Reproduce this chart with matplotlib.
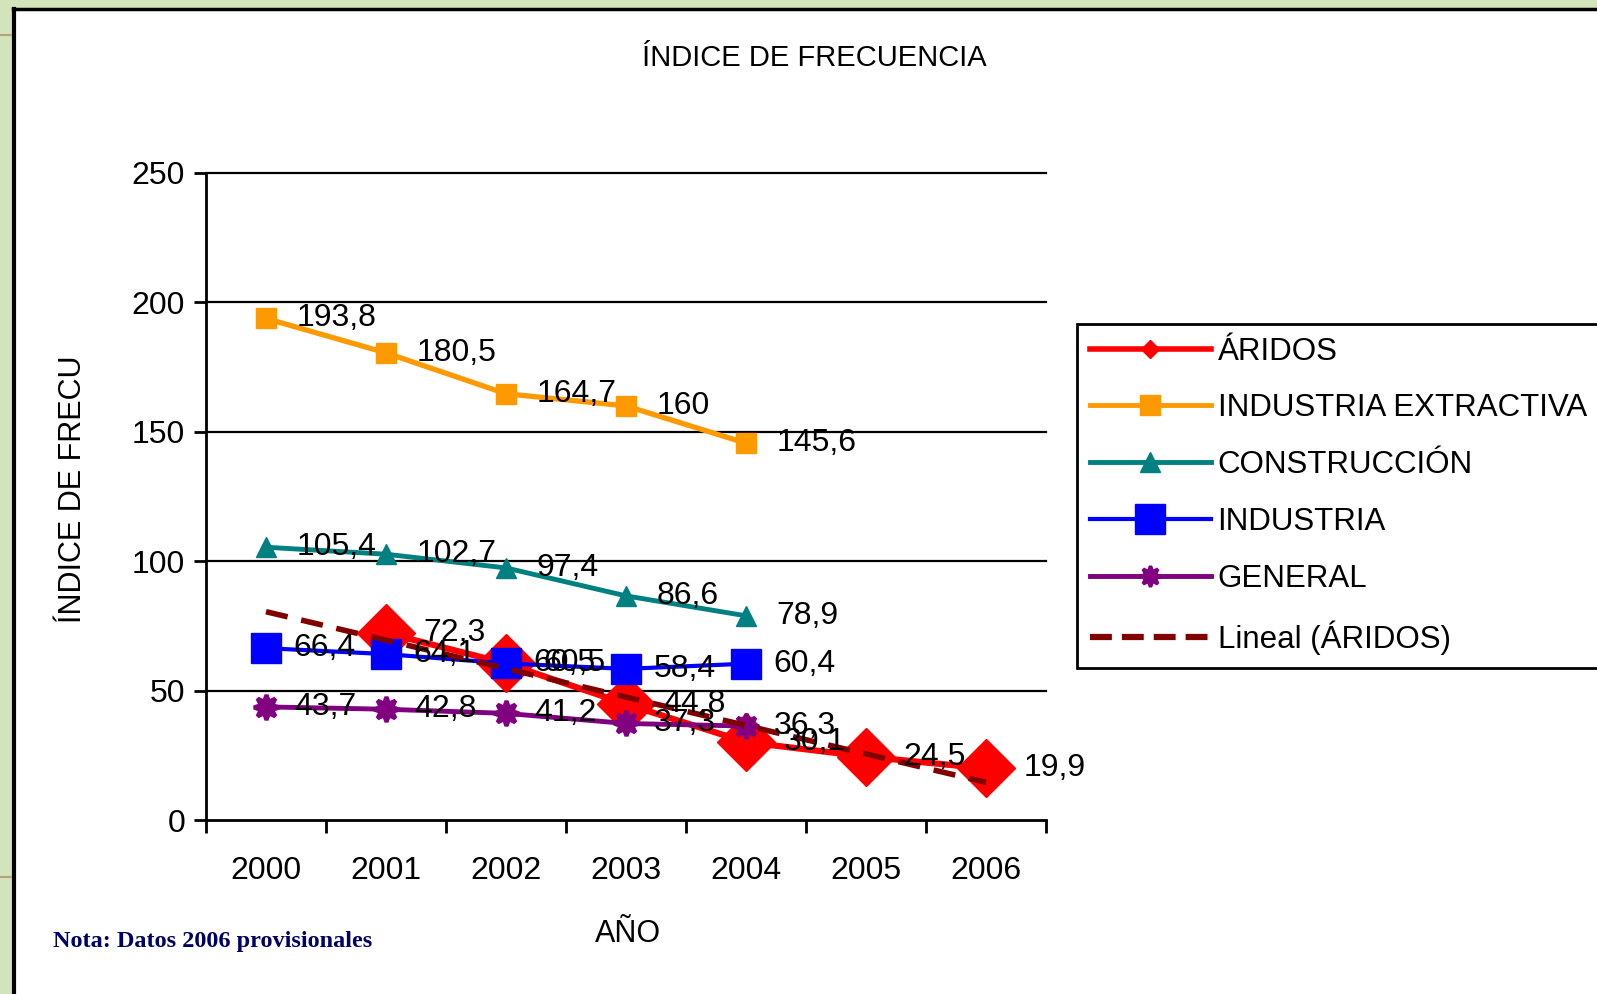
import numpy as np
import matplotlib
matplotlib.use("Agg")
import matplotlib.pyplot as plt
from matplotlib.lines import Line2D
from matplotlib.patches import Rectangle

plt.rcParams['font.family'] = ['Liberation Sans', 'DejaVu Sans']

# Índice de frecuencia por año y sector
years = ['2000', '2001', '2002', '2003', '2004', '2005', '2006']
aridos = [np.nan, 72.3, 60.5, 44.8, 30.1, 24.5, 19.9]
extractiva = [193.8, 180.5, 164.7, 160.0, 145.6]
construccion = [105.4, 102.7, 97.4, 86.6, 78.9]
industria = [66.4, 64.1, 60.5, 58.4, 60.4]
general = [43.7, 42.8, 41.2, 37.3, 36.3]

W, H = 1597, 994
fig = plt.figure(figsize=(W / 100, H / 100), dpi=100, facecolor='#d3e4ba')

# slide frame: white panel with black border on top and left
fig.add_artist(Rectangle((14 / W, 0), 1, 1 - 9 / H, transform=fig.transFigure,
                         facecolor='white', edgecolor='none', zorder=-1))
fig.add_artist(Line2D([13 / W, 1], [1 - 9 / H, 1 - 9 / H], transform=fig.transFigure,
                      color='black', lw=2.5))
fig.add_artist(Line2D([14 / W, 14 / W], [0, 1 - 9 / H], transform=fig.transFigure,
                      color='black', lw=3))
for yy in (35, 877):
    fig.add_artist(Line2D([0, 11 / W], [1 - yy / H, 1 - yy / H], transform=fig.transFigure,
                          color='#b8a27a', lw=1.5))

ax = fig.add_axes([206 / W, 1 - 820 / H, (1046 - 206) / W, (820 - 173) / H])

x = np.arange(len(years))
xs = x[:5]

ax.plot(x, aridos, color='#ff0000', lw=4.5, marker='D', ms=30, mec='#ff0000', zorder=3)
ax.plot(xs, extractiva, color='#ff9900', lw=3.8, marker='s', ms=14, zorder=3)
ax.plot(xs, construccion, color='#008080', lw=3.5, marker='^', ms=15, zorder=3)
ax.plot(xs, industria, color='#0000ff', lw=3, marker='s', ms=22, zorder=3)
ax.plot(xs, general, color='#800080', lw=3.5, marker=(8, 1, 0), ms=18, mew=3, zorder=3)

# linear trend of Áridos over all the years
valid = ~np.isnan(aridos)
coef = np.polyfit(x[valid], np.array(aridos)[valid], 1)
trend = np.polyval(coef, x)
ax.plot(x, trend, color='#800000', lw=4, dashes=(4, 2.5), zorder=4)


def fmt(v):
    return '{:g}'.format(v).replace('.', ',')


series = [(aridos, x, 27), (extractiva, xs, 22), (construccion, xs, 22),
          (industria, xs, 20), (general, xs, 20)]
for vals, xx, off in series:
    for xi, v in zip(xx, vals):
        if np.isnan(v):
            continue
        ax.annotate(fmt(v), (xi, v), xytext=(off, 0), textcoords='offset points',
                    ha='left', va='center', fontsize=23, color='black', zorder=6)

ax.set_xlim(-0.5, 6.5)
ax.set_ylim(0, 250)
ax.set_xticks(x)
ax.set_xticklabels(years)
ax.set_xticks(np.arange(-0.5, 7, 1), minor=True)
ax.tick_params(axis='x', which='major', length=0, pad=26, labelsize=23)
ax.tick_params(axis='x', which='minor', length=9, width=2, direction='out')
ax.set_yticks(np.arange(0, 251, 50))
ax.tick_params(axis='y', length=9, width=2, direction='out', pad=6, labelsize=23)

for v in range(50, 251, 50):
    ax.axhline(v, color='black', lw=1.6, zorder=1, clip_on=False)

ax.spines['top'].set_visible(False)
ax.spines['right'].set_visible(False)
ax.spines['left'].set_linewidth(2)
ax.spines['bottom'].set_linewidth(2)

fig.text(0.51, 1 - 58 / H, 'ÍNDICE DE FRECUENCIA', ha='center', va='center', fontsize=21)
fig.text(73 / W, 1 - 489 / H, 'ÍNDICE DE FRECU', rotation=90, ha='center', va='center',
         fontsize=22)
fig.text(628 / W, 1 - 934 / H, 'AÑO', ha='center', va='center', fontsize=22)
fig.text(53 / W, 1 - 941 / H, 'Nota: Datos 2006 provisionales', ha='left', va='center',
         fontsize=17.5, family='Liberation Serif', weight='bold', color='#000066')

handles = [
    Line2D([], [], color='#ff0000', lw=4, marker='D', ms=9),
    Line2D([], [], color='#ff9900', lw=3.5, marker='s', ms=14),
    Line2D([], [], color='#008080', lw=3.5, marker='^', ms=14),
    Line2D([], [], color='#0000ff', lw=3, marker='s', ms=22),
    Line2D([], [], color='#800080', lw=3.5, marker=(8, 1, 0), ms=15, mew=2.5),
    Line2D([], [], color='#800000', lw=4.5, dashes=(3.5, 1.6)),
]
labels = ['ÁRIDOS', 'INDUSTRIA EXTRACTIVA', 'CONSTRUCCIÓN', 'INDUSTRIA', 'GENERAL',
          'Lineal (ÁRIDOS)']
leg = fig.legend(handles, labels, loc='upper left',
                 bbox_to_anchor=(1077 / W, 1 - 669 / H, 0.36, (669 - 324) / H),
                 mode='expand', fontsize=22.5, frameon=True, fancybox=False,
                 edgecolor='black', framealpha=1, borderaxespad=0, handlelength=3.9,
                 handletextpad=0.2, labelspacing=0.86, numpoints=1, borderpad=0.4)
leg.get_frame().set_linewidth(2)

fig.savefig('out.png', dpi=100, facecolor=fig.get_facecolor())
